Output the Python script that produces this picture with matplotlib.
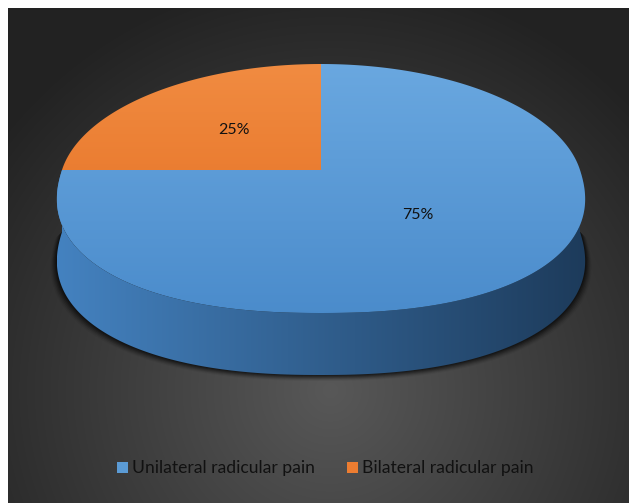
import numpy as np
import matplotlib
matplotlib.use("Agg")
import matplotlib.pyplot as plt
from matplotlib.patches import Polygon, Rectangle

# chart data
categories = ["Unilateral radicular pain", "Bilateral radicular pain"]
shares = [75, 25]
pct_labels = ["75%", "25%"]
top_colors = [("#6aa8e0", "#4a8bcb"), ("#f18c42", "#e2691b")]
legend_colors = ["#5b9bd5", "#ed7d31"]

W, H = 629, 503
fig = plt.figure(figsize=(W / 100, H / 100), dpi=100)
ax = fig.add_axes([0, 0, 1, 1])
ax.axis("off")
fig.patch.set_facecolor("white")

# dark panel with radial gradient
yy, xx = np.mgrid[0:H, 0:W]
r = np.sqrt(((xx - 330) / 420.0) ** 2 + ((yy - 390) / 420.0) ** 2)
r = np.clip(r, 0, 1)
c0 = np.array([0x58, 0x58, 0x58]) / 255
c1 = np.array([0x22, 0x22, 0x22]) / 255
bg = c0[None, None, :] * (1 - r[..., None]) + c1[None, None, :] * r[..., None]
panel = Rectangle((8, 8), W - 8, H - 8, transform=ax.transData)
im = ax.imshow(bg, extent=(0, W, H, 0), zorder=0, interpolation="bilinear")
im.set_clip_path(panel)

# perspective pie geometry
cx, cy = 321, 170
A, B, k = 259, 121.75, 0.1486
depth = 62
n_near = 2.3  # front half of the rim is a bit squarer


def proj(t, dz=0.0):
    u, v = np.cos(t), np.sin(t)
    near = v < 0
    e = np.where(near, 2.0 / n_near, 1.0)
    u = np.sign(u) * np.abs(u) ** e
    v = np.sign(v) * np.abs(v) ** e
    w = 1 + k * v
    return np.column_stack([cx + A * u / w, cy - B * v / w + dz])


def grad_fill(poly, c_a, c_b, horizontal, z, box):
    x0, x1, y0, y1 = box
    g = np.linspace(0, 1, 256)
    ca = np.array(matplotlib.colors.to_rgb(c_a))
    cb = np.array(matplotlib.colors.to_rgb(c_b))
    col = ca[None, :] * (1 - g[:, None]) + cb[None, :] * g[:, None]
    img = col[None, :, :] if horizontal else col[:, None, :]
    ax.add_patch(poly)
    poly.set_visible(False)
    gi = ax.imshow(img, extent=(x0, x1, y1, y0), zorder=z, interpolation="bilinear",
                   aspect="auto")
    gi.set_clip_path(poly)


# shadow under the pie
for i, a in enumerate(np.linspace(0.05, 0.25, 6)):
    t = np.linspace(np.pi, 2 * np.pi, 200)
    pts = proj(t, depth + 6 - i)
    s = 1 + (6 - i) * 0.004
    pts[:, 0] = cx + (pts[:, 0] - cx) * s
    top = proj(np.linspace(0, np.pi, 200), depth)
    shp = Polygon(np.vstack([top, pts]), closed=True, facecolor="black",
                  edgecolor="none", alpha=a, zorder=1)
    ax.add_patch(shp)

# side wall
ts = np.linspace(np.pi, 2 * np.pi, 300)
side = np.vstack([proj(ts), proj(ts[::-1], depth)])
grad_fill(Polygon(side, closed=True), "#4482c0", "#1d3b5b", True, 2,
          (cx - A * 1.02, cx + A * 1.02, 0, H))

# top face wedges, clockwise from 12 o'clock
start = np.pi / 2
for val, cols in zip(shares, top_colors):
    span = 2 * np.pi * val / sum(shares)
    tw = np.linspace(start, start - span, 400)
    pts = np.vstack([[cx, cy], proj(tw)])
    grad_fill(Polygon(pts, closed=True), cols[0], cols[1], False, 3,
              (0, W, 60, 320))
    start -= span

# percentage labels
fnt = ["Lato", "DejaVu Sans"]
ax.text(418, 215, pct_labels[0], ha="center", va="center", fontsize=11.5,
        color="#111111", family=fnt, zorder=5)
ax.text(234, 130, pct_labels[1], ha="center", va="center", fontsize=11.5,
        color="#111111", family=fnt, zorder=5)

# legend
lx = [117, 347]
for x, name, c in zip(lx, categories, legend_colors):
    ax.add_patch(Rectangle((x, 462), 11, 11, facecolor=c, edgecolor="none", zorder=5))
    ax.text(x + 15, 467.5, name, ha="left", va="center", fontsize=12.6,
            color="#111111", family=fnt, zorder=5)

ax.set_xlim(0, W)
ax.set_ylim(H, 0)
fig.savefig("out.png", dpi=100, facecolor="white")
